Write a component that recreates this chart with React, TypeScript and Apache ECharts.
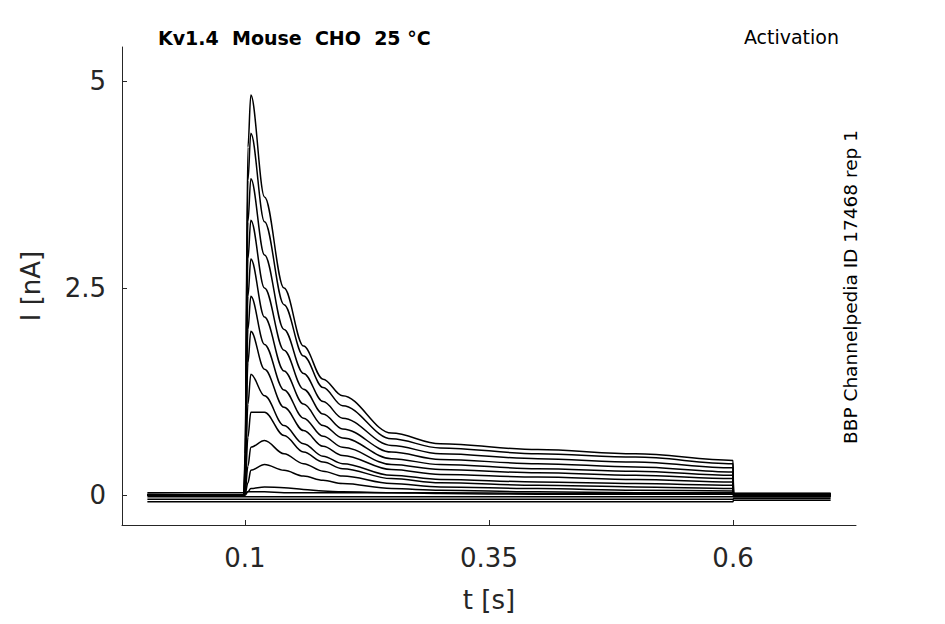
import * as echarts from "echarts";
import { useEffect, useRef } from "react";

// sample times of the step (s)
const times = [0, 0.099, 0.1, 0.103, 0.106, 0.12, 0.14, 0.16, 0.18, 0.2, 0.25, 0.3, 0.4, 0.5, 0.6];
const tailTimes = [0.6005, 0.7];

// current traces (nA), one per voltage step
const traces = [
  [0.01, 0.0, 0.5, 4.2, 4.83, 3.6, 2.5, 1.8, 1.4, 1.2, 0.75, 0.62, 0.55, 0.5, 0.42],
  [0.0, 0.0, 0.4, 3.8, 4.37, 3.3, 2.3, 1.68, 1.3, 1.08, 0.68, 0.57, 0.5, 0.46, 0.38],
  [0.0, 0.0, 0.35, 3.3, 3.82, 2.9, 2.0, 1.47, 1.13, 0.93, 0.6, 0.5, 0.44, 0.4, 0.33],
  [0.0, 0.0, 0.3, 2.85, 3.32, 2.5, 1.75, 1.28, 0.98, 0.8, 0.52, 0.43, 0.38, 0.34, 0.28],
  [0.0, 0.0, 0.25, 2.4, 2.85, 2.15, 1.5, 1.1, 0.84, 0.69, 0.44, 0.37, 0.32, 0.29, 0.24],
  [0.0, 0.0, 0.2, 2.0, 2.4, 1.82, 1.27, 0.93, 0.71, 0.58, 0.37, 0.31, 0.27, 0.24, 0.2],
  [0.0, 0.0, 0.15, 1.6, 1.98, 1.52, 1.06, 0.78, 0.59, 0.48, 0.31, 0.25, 0.22, 0.19, 0.16],
  [0.0, 0.0, 0.1, 1.1, 1.46, 1.2, 0.84, 0.62, 0.47, 0.38, 0.24, 0.19, 0.16, 0.14, 0.12],
  [0.0, 0.0, 0.05, 0.7, 1.0, 1.0, 0.72, 0.52, 0.4, 0.32, 0.2, 0.15, 0.12, 0.1, 0.08],
  [0.0, 0.0, 0.02, 0.35, 0.58, 0.66, 0.5, 0.38, 0.29, 0.23, 0.14, 0.1, 0.08, 0.06, 0.05],
  [0.0, 0.0, 0.01, 0.15, 0.3, 0.37, 0.3, 0.23, 0.18, 0.14, 0.08, 0.06, 0.04, 0.03, 0.03],
  [0.0, 0.0, 0.0, 0.04, 0.08, 0.1, 0.09, 0.07, 0.05, 0.04, 0.03, 0.02, 0.01, 0.01, 0.01],
  [0.03, 0.03, 0.03, 0.04, 0.04, 0.04, 0.03, 0.03, 0.03, 0.03, 0.03, 0.03, 0.02, 0.02, 0.02],
  [-0.02, -0.02, -0.02, -0.02, -0.02, -0.02, -0.02, -0.02, -0.02, -0.02, -0.02, -0.02, -0.02, -0.02, -0.02],
  [-0.05, -0.05, -0.05, -0.05, -0.05, -0.05, -0.05, -0.05, -0.05, -0.05, -0.05, -0.05, -0.05, -0.05, -0.05],
  [-0.08, -0.08, -0.08, -0.08, -0.08, -0.08, -0.08, -0.08, -0.08, -0.08, -0.08, -0.08, -0.08, -0.08, -0.08],
];
// baseline after the step
const tails = [0.02, 0.01, 0.0, -0.01, 0.02, 0.0, -0.02, 0.01, 0.0, -0.01, 0.02, 0.0, 0.01, -0.02, -0.04, -0.06];

const xTicks = [0.1, 0.35, 0.6];
const yTicks = [0, 2.5, 5];

const App = () => {
  const chartRef = useRef<HTMLDivElement>(null);

  useEffect(() => {
    if (!chartRef.current) return;
    const myChart = echarts.init(chartRef.current, null, { renderer: "svg" });

    const series = traces.map((tr, i) => ({
      type: "line",
      showSymbol: false,
      silent: true,
      smooth: 0.35,
      smoothMonotone: "x",
      lineStyle: { color: "#000", width: 1.5 },
      data: [
        ...times.map((t, j) => [t, tr[j]]),
        ...tailTimes.map((t) => [t, tails[i]]),
      ],
    }));

    const axisText = { color: "#262626", fontSize: 26, fontFamily: "DejaVu Sans" };

    myChart.setOption({
      animation: false,
      grid: { left: 122, right: 89, top: 47, bottom: 99 },
      xAxis: {
        type: "value",
        min: -0.026,
        max: 0.726,
        name: "t [s]",
        nameLocation: "middle",
        nameGap: 62,
        nameTextStyle: axisText,
        splitLine: { show: false },
        axisLine: { onZero: false, lineStyle: { color: "#262626" } },
        axisTick: { inside: true, length: 5, customValues: xTicks, lineStyle: { color: "#262626" } },
        axisLabel: { ...axisText, margin: 20, customValues: xTicks },
      },
      yAxis: {
        type: "value",
        min: -0.36,
        max: 5.41,
        name: "I [nA]",
        nameLocation: "middle",
        nameGap: 78,
        nameTextStyle: axisText,
        splitLine: { show: false },
        axisLine: { show: true, onZero: false, lineStyle: { color: "#262626" } },
        axisTick: { show: true, inside: true, length: 5, customValues: yTicks, lineStyle: { color: "#262626" } },
        axisLabel: { ...axisText, margin: 16, customValues: yTicks },
      },
      graphic: [
        {
          type: "text",
          left: 158,
          top: 28,
          style: { text: "Kv1.4  Mouse  CHO  25 °C", fontSize: 19, fontWeight: "bold", fill: "#000", fontFamily: "DejaVu Sans" },
        },
        {
          type: "text",
          right: 106,
          top: 27,
          style: { text: "Activation", fontSize: 19, fill: "#000", fontFamily: "DejaVu Sans" },
        },
        {
          type: "text",
          x: 860,
          y: 287,
          rotation: Math.PI / 2,
          style: {
            text: "BBP Channelpedia ID 17468 rep 1",
            fontSize: 18.5,
            fill: "#000",
            fontFamily: "DejaVu Sans",
            align: "center",
            verticalAlign: "bottom",
          },
        },
      ],
      series,
    });

    return () => {
      myChart.dispose();
    };
  }, []);

  return <div ref={chartRef} style={{ position: "fixed", left: 0, top: 0, width: 945, height: 624, background: "#fff" }} />;
};

export default App;
